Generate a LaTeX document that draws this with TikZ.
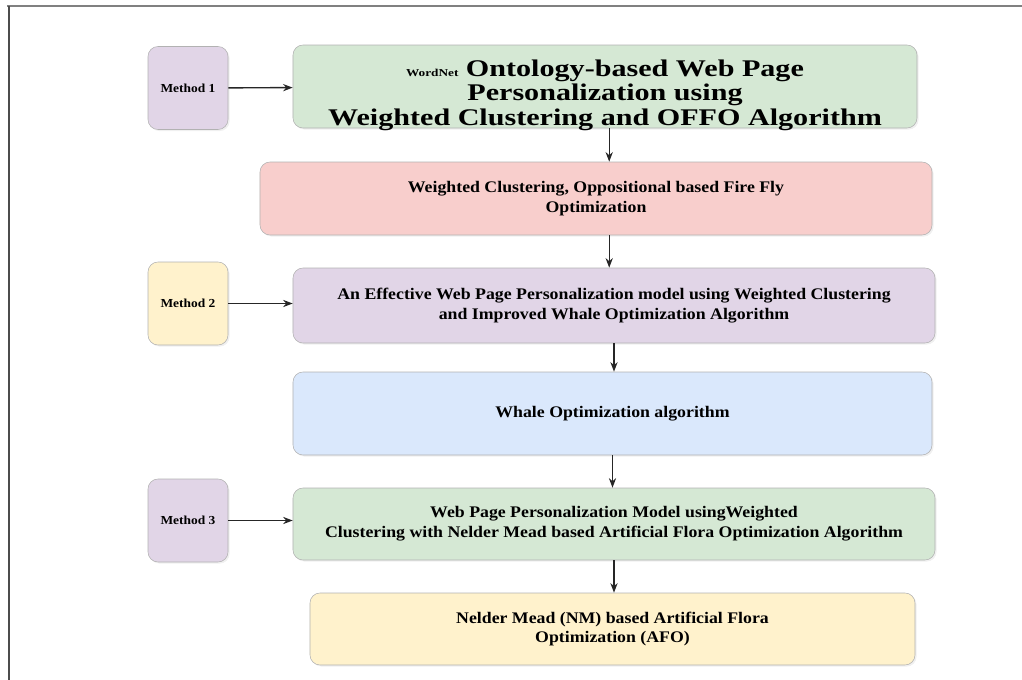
\documentclass[tikz,border=0pt]{standalone}
\usepackage{fontspec}
\setmainfont{Liberation Serif}[FakeStretch=1.1]
\newfontfamily\widefont{Liberation Serif}[FakeStretch=1.26]
\usetikzlibrary{arrows.meta,shadows}

\definecolor{lilac}{HTML}{E1D5E7}
\definecolor{cream}{HTML}{FFF2CC}
\definecolor{mint}{HTML}{D5E8D4}
\definecolor{rose}{HTML}{F8CECC}
\definecolor{sky}{HTML}{DAE8FC}

\tikzset{
  box/.style={draw=gray!60,rounded corners=2.5mm,align=center,font=\bfseries,
    drop shadow={opacity=.12,shadow xshift=.4mm,shadow yshift=-.4mm}},
  methodbox/.style={box,fill=lilac,minimum width=20mm,minimum height=20.75mm,
    font=\bfseries\fontsize{8.7}{10}\selectfont},
  textbox/.style={box,font=\bfseries\fontsize{11.5}{14}\selectfont},
  link/.style={-{Stealth[length=2.4mm,width=1.8mm]},line width=.35mm,black!85}
}

\begin{document}
\begin{tikzpicture}[x=0.25mm,y=-0.25mm]
  \useasboundingbox (0,0) rectangle (1022,680);
  % frame of the page
  \draw[gray,line width=.5mm] (7,6) -- (1022,6);
  \draw[black!70,line width=.6mm] (9,6) -- (9,680);

  \node[methodbox] (m1) at (188,88) {Method 1};
  \node[methodbox,fill=cream] (m2) at (188,303.5) {Method 2};
  \node[methodbox] (m3) at (188,520.5) {Method 3};

  \node[box,fill=mint,minimum width=156mm,minimum height=20.75mm] (ontology) at (605,86.5) {};
  \node[align=center,font=\widefont\bfseries\fontsize{17}{17.5}\selectfont] (ontologytext) at (605,95)
    {{\fontsize{7.5}{8}\selectfont WordNet} Ontology-based Web Page\\
     Personalization using\\ Weighted Clustering and OFFO Algorithm};
  \node[textbox,fill=rose,minimum width=168mm,minimum height=18.25mm] (offo) at (596,198.5)
    {Weighted Clustering, Oppositional based Fire Fly\\ Optimization};
  \node[textbox,fill=lilac,minimum width=160.5mm,minimum height=18.75mm] (iwoa) at (614,305.5)
    {An Effective Web Page Personalization model using Weighted Clustering\\
     and Improved Whale Optimization Algorithm};
  \node[textbox,fill=sky,minimum width=159.75mm,minimum height=20.75mm] (woa) at (612.5,413.5)
    {Whale Optimization algorithm};
  \node[textbox,fill=mint,minimum width=160.5mm,minimum height=18mm] (nmafo) at (614,524)
    {Web Page Personalization Model usingWeighted\\
     Clustering with Nelder Mead based Artificial Flora Optimization Algorithm};
  \node[textbox,fill=cream,minimum width=151.25mm,minimum height=18mm] (afo) at (612.5,629)
    {Nelder Mead (NM) based Artificial Flora\\ Optimization (AFO)};

  \draw[link] (m1) -- (ontology);
  \draw[link] (m2) -- (m2 -| iwoa.west);
  \draw[link] (m3) -- (m3 -| nmafo.west);
  \draw[link] ([xshift=3pt]ontology.south) -- ([xshift=3pt]ontology.south |- offo.north);
  \draw[link] ([xshift=3pt]ontology.south |- offo.south) -- ([xshift=3pt]ontology.south |- iwoa.north);
  \draw[link] (iwoa.south) -- (iwoa.south |- woa.north);
  \draw[link] (woa.south) -- (woa.south |- nmafo.north);
  \draw[link] (nmafo.south) -- (nmafo.south |- afo.north);
\end{tikzpicture}
\end{document}
